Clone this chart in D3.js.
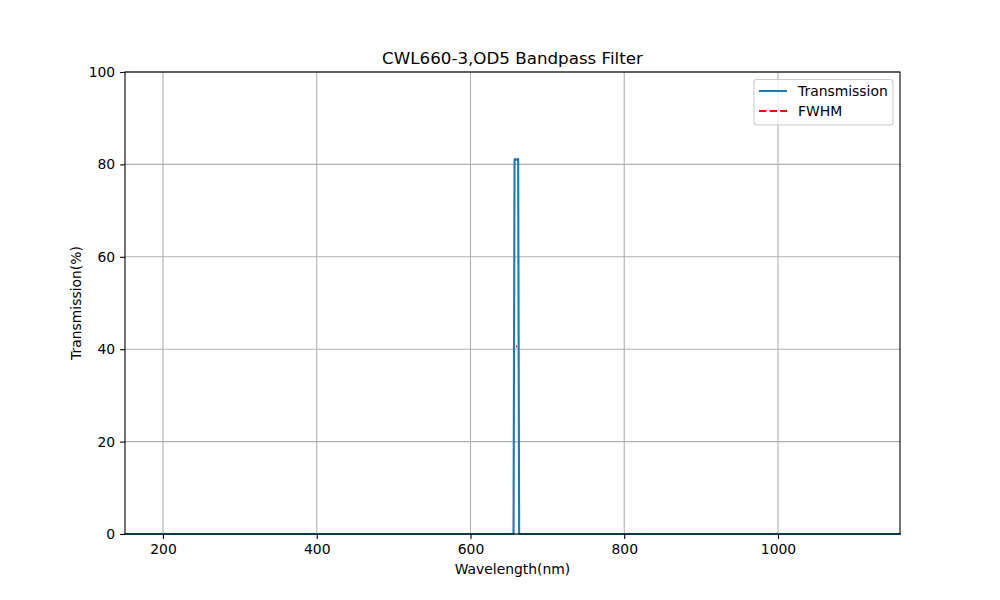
<!DOCTYPE html>
<html>
<head>
<meta charset="utf-8">
<script src="https://cdn.jsdelivr.net/npm/d3@7"></script>
<style>
  body { margin: 0; background: #fff; }
  text { font-family: "DejaVu Sans", sans-serif; fill: #000; }
</style>
</head>
<body>
<div id="chart"></div>
<script>
// spectrum
var wavelength   = [150, 656, 657.3, 658.3, 659.3, 660.3, 661.3, 662, 663.3, 1160];
var transmission = [0,   0,   81.0,  81.2,  81.0,  81.0,  81.1,  81.2, 0,   0];
// FWHM marker
var fwhmX = [659.2, 660.6];
var fwhmY = [40.6, 40.6];
var xTicks = [200, 400, 600, 800, 1000];
var yTicks = [0, 20, 40, 60, 80, 100];

var width = 1000, height = 600;
var plotLeft = 125, plotRight = 900, plotTop = 72, plotBottom = 534;

var svg = d3.select("#chart").append("svg")
  .attr("width", width).attr("height", height);

var x = d3.scaleLinear().domain([150.6, 1158.7]).range([plotLeft, plotRight]);
var y = d3.scaleLinear().domain([0, 100]).range([plotBottom, plotTop]);

// grid
svg.append("g").selectAll("line").data(xTicks).enter().append("line")
  .attr("x1", function(d) { return x(d); }).attr("x2", function(d) { return x(d); })
  .attr("y1", plotTop).attr("y2", plotBottom)
  .style("stroke", "#b0b0b0").style("stroke-width", 1.1);
svg.append("g").selectAll("line").data(yTicks).enter().append("line")
  .attr("x1", plotLeft).attr("x2", plotRight)
  .attr("y1", function(d) { return y(d); }).attr("y2", function(d) { return y(d); })
  .style("stroke", "#b0b0b0").style("stroke-width", 1.1);

// data
var pts = wavelength.map(function(w, i) { return [w, transmission[i]]; });
var line = d3.line().x(function(d) { return x(d[0]); }).y(function(d) { return y(d[1]); });
svg.append("path").datum(pts).attr("d", line)
  .style("fill", "none").style("stroke", "#1f77b4").style("stroke-width", 2.1)
  .style("stroke-linejoin", "round");

var fw = fwhmX.map(function(w, i) { return [w, fwhmY[i]]; });
svg.append("path").datum(fw).attr("d", line)
  .style("fill", "none").style("stroke", "red").style("stroke-width", 2.1)
  .style("stroke-dasharray", "7.4,3.2");

// axes
var xAxis = svg.append("g").attr("transform", "translate(0," + plotBottom + ")")
  .call(d3.axisBottom(x).tickValues(xTicks).tickSize(4.9).tickPadding(4.9).tickFormat(d3.format("d")));
var yAxis = svg.append("g").attr("transform", "translate(" + plotLeft + ",0)")
  .call(d3.axisLeft(y).tickValues(yTicks).tickSize(4.9).tickPadding(4.9).tickFormat(d3.format("d")));
[xAxis, yAxis].forEach(function(a) {
  a.selectAll("text").style("font-size", "13.9px").style("font-family", "DejaVu Sans, sans-serif");
  a.selectAll("line").style("stroke", "#000").style("stroke-width", 1.1);
  a.select(".domain").remove();
});

svg.append("rect").attr("x", plotLeft).attr("y", plotTop)
  .attr("width", plotRight - plotLeft).attr("height", plotBottom - plotTop)
  .style("fill", "none").style("stroke", "#000").style("stroke-width", 1.1);

// labels
svg.append("text").attr("x", (plotLeft + plotRight) / 2).attr("y", 64)
  .attr("text-anchor", "middle").style("font-size", "16.7px")
  .text("CWL660-3,OD5 Bandpass Filter");
svg.append("text").attr("x", (plotLeft + plotRight) / 2).attr("y", 574)
  .attr("text-anchor", "middle").style("font-size", "13.9px")
  .text("Wavelength(nm)");
svg.append("text")
  .attr("transform", "translate(81," + ((plotTop + plotBottom) / 2) + ") rotate(-90)")
  .attr("text-anchor", "middle").style("font-size", "13.9px")
  .text("Transmission(%)");

// legend
var lg = svg.append("g");
lg.append("rect").attr("x", 754).attr("y", 79.5).attr("width", 139).attr("height", 45.5)
  .attr("rx", 3).style("fill", "#fff").style("fill-opacity", 0.8)
  .style("stroke", "#cccccc").style("stroke-width", 1.1);
var items = [
  { name: "Transmission", color: "#1f77b4", dash: null },
  { name: "FWHM", color: "red", dash: "7.4,3.2" }
];
items.forEach(function(it, i) {
  var yy = 91 + i * 20;
  lg.append("line").attr("x1", 759).attr("x2", 787).attr("y1", yy).attr("y2", yy)
    .style("stroke", it.color).style("stroke-width", 2.1)
    .style("stroke-dasharray", it.dash);
  lg.append("text").attr("x", 798).attr("y", yy + 5).style("font-size", "13.9px").text(it.name);
});
</script>
</body>
</html>
